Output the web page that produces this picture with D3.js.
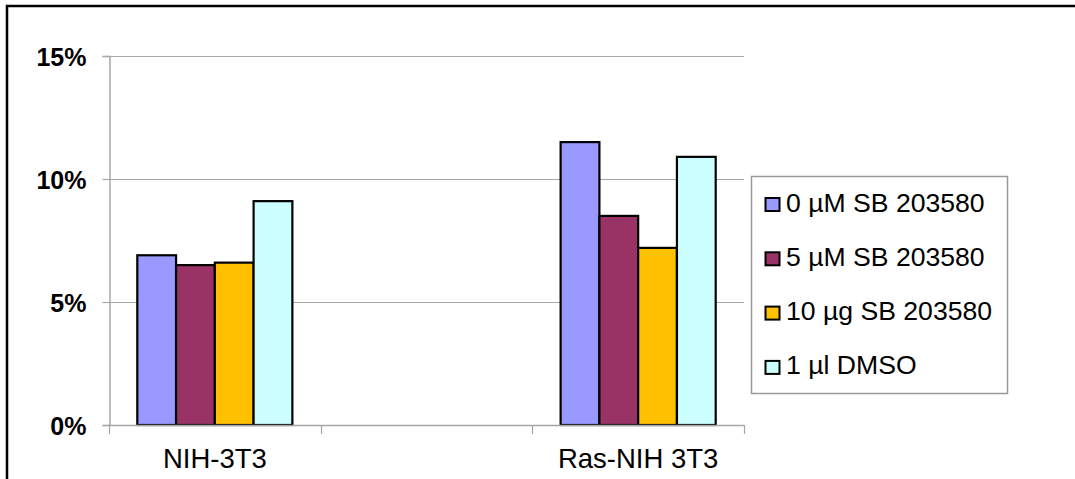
<!DOCTYPE html>
<html>
<head>
<meta charset="utf-8">
<script src="https://cdn.jsdelivr.net/npm/d3@7"></script>
<style>
  html, body { margin: 0; padding: 0; background: #fff; }
  svg { display: block; }
  text { font-family: "Liberation Sans", Arial, sans-serif; fill: #000; }
</style>
</head>
<body>
<svg id="chart" width="1075" height="479"></svg>
<script>
// Categories (the middle slot is an empty spacer category)
const categories = ["NIH-3T3", "", "Ras-NIH 3T3"];
const seriesNames = ["0 µM SB 203580", "5 µM SB 203580", "10 µg SB 203580", "1 µl DMSO"];
const seriesColors = ["#9999FF", "#993366", "#FFC000", "#CCFFFF"];
// Values per series, one per category (fraction of cells)
const sb0  = [0.069, null, 0.115];
const sb5  = [0.065, null, 0.085];
const sb10 = [0.066, null, 0.072];
const dmso = [0.091, null, 0.109];
const yTicks = [0, 0.05, 0.10, 0.15];

const seriesValues = [sb0, sb5, sb10, dmso];

const svg = d3.select("#chart");

// Outer chart frame
svg.append("rect")
  .attr("x", 7).attr("y", 6)
  .attr("width", 1200).attr("height", 600)
  .attr("fill", "none").attr("stroke", "#000").attr("stroke-width", 2.5);

const plot = { left: 109, right: 744, top: 56, bottom: 425 };

const x = d3.scaleBand().domain(categories).range([plot.left, plot.right]).padding(0);
const xs = d3.scaleBand().domain(seriesNames).range([0, x.bandwidth()])
  .paddingInner(0).paddingOuter(0.73);
const y = d3.scaleLinear().domain([0, 0.15]).range([plot.bottom, plot.top]);

// Horizontal gridlines
svg.append("g").selectAll("line").data(yTicks.filter(d => d > 0)).join("line")
  .attr("x1", plot.left).attr("x2", plot.right)
  .attr("y1", d => Math.round(y(d)) + 0.5).attr("y2", d => Math.round(y(d)) + 0.5)
  .attr("stroke", "#a6a6a6").attr("stroke-width", 1);

// Y axis
const yAxis = svg.append("g")
  .attr("transform", `translate(${plot.left + 0.5},0)`)
  .call(d3.axisLeft(y).tickValues(yTicks).tickFormat(d3.format(".0%")).tickSize(7).tickPadding(16));
yAxis.select(".domain").attr("stroke", "#a6a6a6").attr("stroke-width", 1.5);
yAxis.selectAll(".tick line").attr("stroke", "#a6a6a6").attr("stroke-width", 1.2);
yAxis.selectAll(".tick text")
  .attr("font-size", 25).attr("font-weight", "bold")
  .attr("font-family", "'Liberation Sans', Arial, sans-serif")
  .attr("fill", "#000").attr("dy", "0.36em");

// Bars
const groups = svg.append("g").selectAll("g").data(seriesNames).join("g")
  .attr("fill", (d, i) => seriesColors[i]);
groups.each(function (name, si) {
  const vals = seriesValues[si].map((v, ci) => ({ cat: categories[ci], v }))
    .filter(d => d.v != null);
  d3.select(this).selectAll("rect").data(vals).join("rect")
    .attr("x", d => x(d.cat) + xs(name))
    .attr("y", d => y(d.v))
    .attr("width", xs.bandwidth())
    .attr("height", d => y(0) - y(d.v))
    .attr("stroke", "#000").attr("stroke-width", 2.2);
});

// X axis line with ticks at category boundaries
const xg = svg.append("g");
xg.append("line")
  .attr("x1", plot.left).attr("x2", plot.right)
  .attr("y1", plot.bottom + 0.5).attr("y2", plot.bottom + 0.5)
  .attr("stroke", "#a6a6a6").attr("stroke-width", 1.5);
const bounds = categories.map(c => x(c)).concat([x(categories[categories.length - 1]) + x.bandwidth()]);
xg.selectAll("line.tk").data(bounds).join("line").attr("class", "tk")
  .attr("x1", d => Math.round(d) + 0.5).attr("x2", d => Math.round(d) + 0.5)
  .attr("y1", plot.bottom).attr("y2", plot.bottom + 9)
  .attr("stroke", "#a6a6a6").attr("stroke-width", 1.2);

// Category labels centred on the bar groups
xg.selectAll("text").data(categories.filter(c => c !== "")).join("text")
  .attr("x", d => x(d) + x.bandwidth() / 2)
  .attr("y", 468)
  .attr("text-anchor", "middle")
  .attr("font-size", 27.5)
  .text(d => d);

// Legend
const legend = svg.append("g");
legend.append("rect")
  .attr("x", 751.5).attr("y", 176.5).attr("width", 256).attr("height", 217)
  .attr("fill", "#fff").attr("stroke", "#999").attr("stroke-width", 1.5);
const items = legend.selectAll("g.item").data(seriesNames).join("g").attr("class", "item")
  .attr("transform", (d, i) => `translate(0,${211.5 + i * 54.3})`);
items.append("rect")
  .attr("x", 765.5).attr("y", -13.5).attr("width", 14).attr("height", 13)
  .attr("fill", (d, i) => seriesColors[i]).attr("stroke", "#000").attr("stroke-width", 2);
items.append("text")
  .attr("x", 786).attr("y", 0)
  .attr("font-size", 26.6)
  .text(d => d);
</script>
</body>
</html>
